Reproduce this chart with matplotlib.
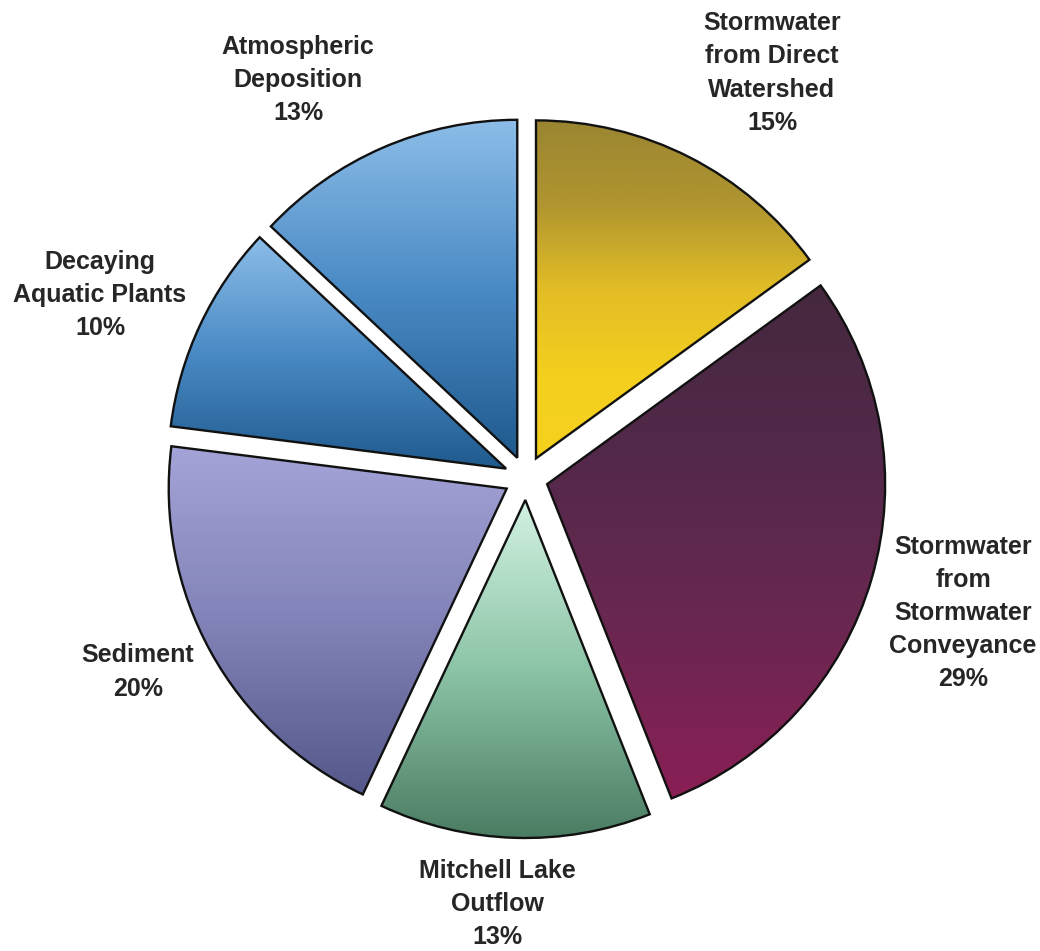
import numpy as np
import matplotlib
matplotlib.use("Agg")
import matplotlib.pyplot as plt
from matplotlib.colors import LinearSegmentedColormap

# ---- data ----
labels = [
    "Stormwater\nfrom Direct\nWatershed",
    "Stormwater\nfrom\nStormwater\nConveyance",
    "Mitchell Lake\nOutflow",
    "Sediment",
    "Decaying\nAquatic Plants",
    "Atmospheric\nDeposition",
]
values = [15, 29, 13, 20, 10, 13]
# gradient colours (top -> bottom) per slice
grad_colors = [
    ["#9a8530", "#b09530", "#e2bd26", "#f4cf1e", "#f6d21e"],
    ["#45283e", "#53294a", "#6a2750", "#8a1f55"],
    ["#d2f2e2", "#8cc4a6", "#4a7c62"],
    ["#a4a4d8", "#8283b8", "#55588a"],
    ["#8cbde8", "#4a8ac4", "#1f5a8e"],
    ["#8cbde8", "#4a8ac4", "#1f5a8e"],
]
# label anchor positions in pixel coords (x, y from top)
label_pos = [(772, 73), (963, 613), (497, 904), (138, 672), (100, 295), (298, 80)]

W, H = 1040, 951
fig = plt.figure(figsize=(W / 100, H / 100), dpi=100)
ax = fig.add_axes([0, 0, 1, 1])

cx, cy, R = 526, H - 478, 338
explode = [22] * len(values)  # data units

wedges, _ = ax.pie(
    values, startangle=90, counterclock=False, radius=R, center=(cx, cy),
    explode=explode,
    wedgeprops=dict(facecolor="none", edgecolor="#111111", linewidth=1.7),
)
ax.set_xlim(0, W)
ax.set_ylim(0, H)
ax.set_aspect("equal")
ax.axis("off")

grad = np.linspace(0, 1, 256).reshape(-1, 1)
for w, cols in zip(wedges, grad_colors):
    bb = w.get_path().get_extents(w.get_patch_transform())
    cmap = LinearSegmentedColormap.from_list("g", cols)
    im = ax.imshow(grad, cmap=cmap, aspect="auto", origin="upper",
                   extent=(bb.x0, bb.x1, bb.y0, bb.y1), zorder=0.5,
                   interpolation="bilinear")
    im.set_clip_path(w)
    w.set_zorder(1)
ax.set_xlim(0, W)
ax.set_ylim(0, H)

for lab, v, (px, py) in zip(labels, values, label_pos):
    ax.text(px, H - py, f"{lab}\n{v}%", ha="center", va="center",
            fontsize=18, fontweight="bold", color="#262626",
            family=["Liberation Sans", "DejaVu Sans"], linespacing=1.48)

fig.savefig("out.png", dpi=100, facecolor="white")
